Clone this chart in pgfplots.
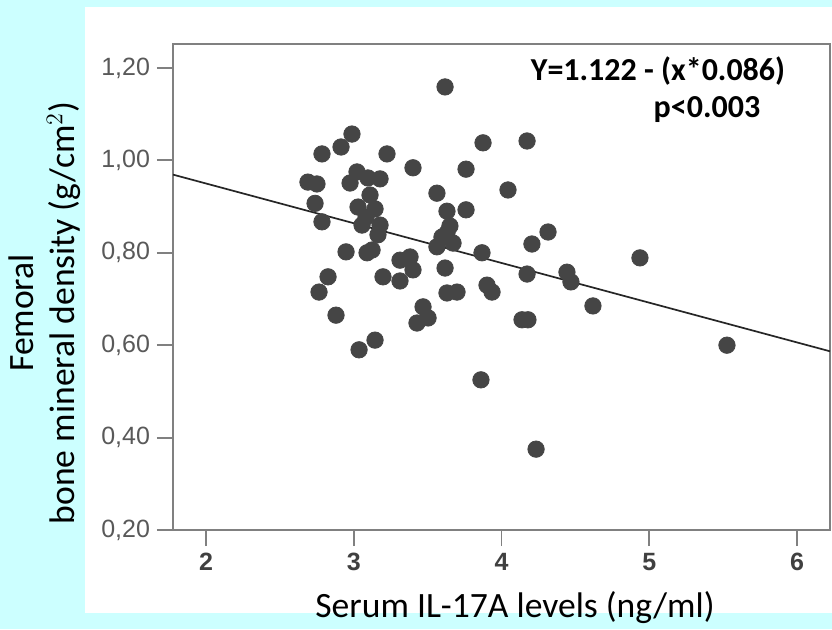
\documentclass[border=0pt]{standalone}
\usepackage{fontspec}
\setmainfont{Carlito}
\newfontfamily\arialf{Liberation Sans}
\usepackage{pgfplots}
\pgfplotsset{compat=1.18}
\definecolor{bgcyan}{HTML}{CCFFFF}
\definecolor{dotc}{HTML}{454545}
\begin{document}
\begin{tikzpicture}[x=1pt,y=1pt]
\useasboundingbox (-86.5,-49.5) rectangle (329.5,265);
\fill[bgcyan] (-86.5,-49.5) rectangle (329.5,265);
\fill[white] (-44,-41.5) rectangle (329.5,261.5);
\begin{axis}[
  at={(0,0)}, anchor=south west, scale only axis,
  width=328.5pt, height=243pt,
  xmin=1.7766, xmax=6.2234, ymin=0.2, ymax=1.2519,
  xtick={2,3,4,5,6}, ytick={0.2,0.4,0.6,0.8,1.0,1.2},
  axis line style={draw=black!50, line width=0.9pt},
  tick style={draw=black!50, line width=0.9pt},
  major tick length=8pt, tick align=outside,
  xtick pos=bottom, ytick pos=left,
  yticklabel style={font=\arialf\fontsize{12.5}{14}\selectfont, text=black!65,
    /pgf/number format/.cd, fixed, fixed zerofill, precision=2, use comma, assume math mode=true},
  xticklabel style={font=\arialf\bfseries\fontsize{12.5}{14}\selectfont, text=black!75,
    /pgf/number format/assume math mode=true},
  clip=false,
]
\addplot[no marks, draw=black!85, line width=0.85pt] coordinates {(1.7766,0.96921) (6.2234,0.58679)};
\addplot[only marks, mark=*, mark size=4.1pt, mark options={fill=dotc, draw=dotc}] table {
x y
2.988 1.057
2.914 1.029
2.785 1.014
3.225 1.014
3.401 0.984
2.690 0.953
2.751 0.949
3.022 0.975
2.975 0.951
3.096 0.962
3.178 0.960
3.110 0.925
2.738 0.907
3.029 0.899
3.144 0.895
3.083 0.877
2.785 0.867
3.056 0.860
3.178 0.860
3.164 0.839
3.618 1.159
3.875 1.038
4.173 1.042
3.760 0.981
4.044 0.936
3.563 0.929
3.631 0.890
3.760 0.893
3.651 0.858
3.597 0.834
3.672 0.821
3.563 0.813
3.631 0.843
3.868 0.800
4.206 0.819
4.315 0.845
4.937 0.789
4.173 0.754
4.443 0.758
4.470 0.737
4.619 0.685
4.139 0.655
4.179 0.655
3.618 0.767
3.631 0.713
3.699 0.715
3.902 0.730
3.936 0.715
3.469 0.683
3.428 0.648
3.503 0.659
3.861 0.525
4.234 0.375
5.526 0.600
2.948 0.802
3.090 0.800
3.124 0.806
3.313 0.784
3.381 0.791
3.401 0.763
3.198 0.748
3.313 0.739
2.826 0.748
2.765 0.715
2.880 0.665
3.144 0.611
3.036 0.590
};
\end{axis}
\node[font=\bfseries\fontsize{16}{18}\selectfont] at (242.5,229.5) {Y=1.122 - (x*0.086)};
\node[font=\bfseries\fontsize{16}{18}\selectfont] at (267,210) {p<0.003};
\node[font=\fontsize{17.8}{20}\selectfont] at (171,-39) {Serum IL-17A levels (ng/ml)};
\node[font=\fontsize{17.8}{20.5}\selectfont, rotate=90, align=center] at (-64,108.5) {Femoral\\bone mineral density (g/cm$^2$)};
\end{tikzpicture}
\end{document}
